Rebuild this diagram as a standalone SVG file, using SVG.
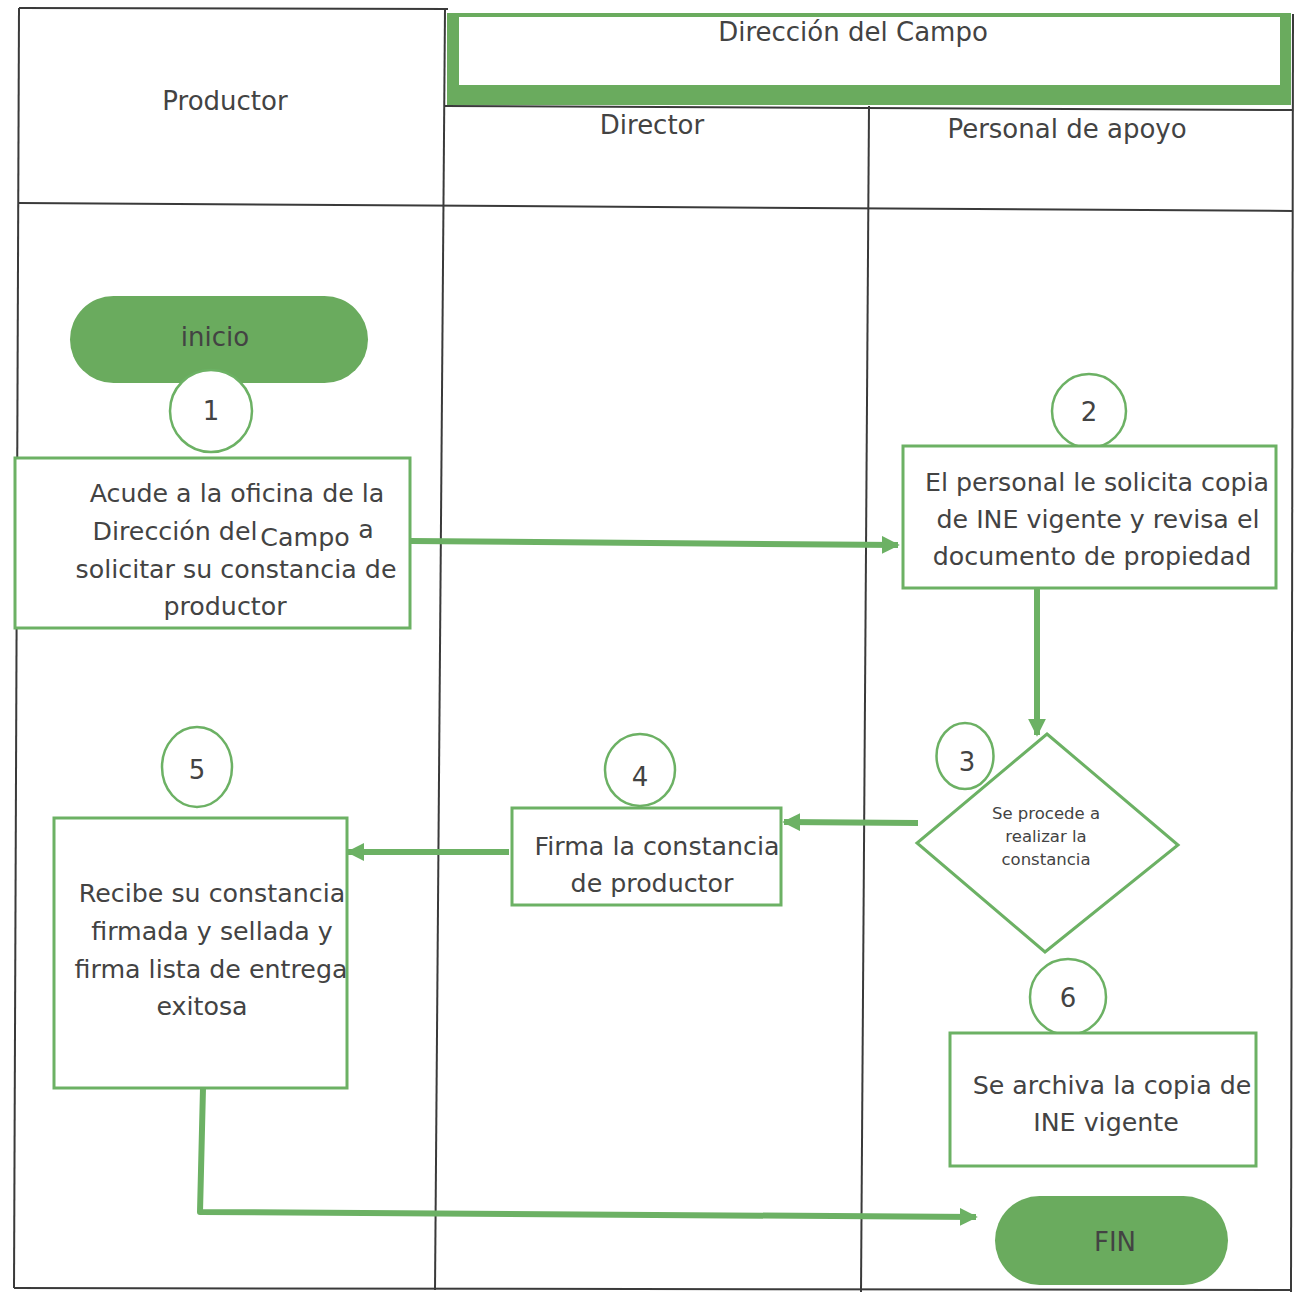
<svg xmlns="http://www.w3.org/2000/svg" width="1295" height="1292" viewBox="0 0 1295 1292">
  <defs>
    <style>
      .grid { stroke: #3a3a3a; stroke-width: 2; fill: none; }
      .lbl { font-family: "DejaVu Sans", "Liberation Sans", sans-serif; fill: #434343; text-anchor: middle; }
      .head { font-size: 26px; }
      .body { font-size: 25.3px; }
      .small { font-size: 16.5px; }
      .box { fill: #ffffff; stroke: #6cb164; stroke-width: 3; }
      .num { fill: #ffffff; stroke: #6cb164; stroke-width: 2.5; }
      .term { fill: #6aab5e; stroke: none; }
      .flow { stroke: #6cb164; stroke-width: 6; fill: none; }
    </style>
    <marker id="arrow" viewBox="0 0 10 10" refX="9" refY="5" markerWidth="3" markerHeight="3" orient="auto" markerUnits="strokeWidth">
      <path d="M0,0 L10,5 L0,10 z" fill="#6cb164"/>
    </marker>
  </defs>

  <rect width="1295" height="1292" fill="#ffffff"/>

  <!-- swimlane table -->
  <g id="lanes">
    <line class="grid" x1="19" y1="8" x2="448" y2="9"/>
    <line class="grid" x1="19" y1="8" x2="14" y2="1288"/>
    <line class="grid" x1="1293" y1="14" x2="1291" y2="1292"/>
    <line class="grid" x1="14" y1="1288" x2="1291" y2="1290"/>
    <line class="grid" x1="445" y1="8" x2="435" y2="1290"/>
    <line class="grid" x1="869" y1="106" x2="861" y2="1292"/>
    <line class="grid" x1="445" y1="106" x2="1293" y2="110"/>
    <line class="grid" x1="19" y1="203" x2="1293" y2="211"/>
  </g>

  <!-- lane headers -->
  <g id="header-productor">
    <text class="lbl head" x="225" y="110">Productor</text>
  </g>
  <g id="header-direccion">
    <rect x="447" y="13" width="844" height="92" fill="#6aab5e"/>
    <rect x="459" y="17" width="821" height="68" fill="#ffffff"/>
    <text class="lbl head" x="853" y="41">Dirección del Campo</text>
  </g>
  <g id="header-director">
    <text class="lbl head" x="652" y="134">Director</text>
  </g>
  <g id="header-personal">
    <text class="lbl head" x="1067" y="138">Personal de apoyo</text>
  </g>

  <!-- connectors -->
  <g id="connectors">
    <path class="flow" d="M410,541 L898,545" marker-end="url(#arrow)"/>
    <path class="flow" d="M1037,588 L1037,735" marker-end="url(#arrow)"/>
    <path class="flow" d="M918,823 L784,822" marker-end="url(#arrow)"/>
    <path class="flow" d="M509,852 L348,852" marker-end="url(#arrow)"/>
    <path class="flow" d="M203,1088 L200,1212 L976,1217" marker-end="url(#arrow)" stroke-linejoin="round"/>
  </g>

  <!-- start terminal -->
  <g id="inicio">
    <rect class="term" x="70" y="296" width="298" height="87" rx="43.5"/>
    <text class="lbl head" x="215" y="346">inicio</text>
  </g>

  <!-- step 1 -->
  <g id="step1">
    <circle class="num" cx="211" cy="411" r="41"/>
    <text class="lbl head" x="211" y="420">1</text>
    <rect class="box" x="15" y="458" width="395" height="170"/>
    <text class="lbl body" x="237" y="502">Acude a la oficina de la</text>
    <text class="lbl body" x="175" y="540">Dirección del</text>
    <text class="lbl body" x="305" y="546">Campo</text>
    <text class="lbl body" x="366" y="538">a</text>
    <text class="lbl body" x="236" y="578">solicitar su constancia de</text>
    <text class="lbl body" x="225" y="615">productor</text>
  </g>

  <!-- step 2 -->
  <g id="step2">
    <circle class="num" cx="1089" cy="411" r="37"/>
    <text class="lbl head" x="1089" y="421">2</text>
    <rect class="box" x="903" y="446" width="373" height="142"/>
    <text class="lbl body" x="1097" y="491">El personal le solicita copia</text>
    <text class="lbl body" x="1098" y="528">de INE vigente y revisa el</text>
    <text class="lbl body" x="1092" y="565">documento de propiedad</text>
  </g>

  <!-- step 3 decision -->
  <g id="step3">
    <ellipse class="num" cx="965" cy="756" rx="28.5" ry="33"/>
    <text class="lbl head" x="967" y="771">3</text>
    <polygon class="box" points="1047,734 1178,845 1045,952 917,843"/>
    <text class="lbl small" x="1046" y="819">Se procede a</text>
    <text class="lbl small" x="1046" y="842">realizar la</text>
    <text class="lbl small" x="1046" y="865">constancia</text>
  </g>

  <!-- step 4 -->
  <g id="step4">
    <ellipse class="num" cx="640" cy="770" rx="35" ry="36"/>
    <text class="lbl head" x="640" y="786">4</text>
    <rect class="box" x="512" y="808" width="269" height="97"/>
    <text class="lbl body" x="657" y="855">Firma la constancia</text>
    <text class="lbl body" x="652" y="892">de productor</text>
  </g>

  <!-- step 5 -->
  <g id="step5">
    <ellipse class="num" cx="197" cy="767" rx="35" ry="40"/>
    <text class="lbl head" x="197" y="779">5</text>
    <rect class="box" x="54" y="818" width="293" height="270"/>
    <text class="lbl body" x="212" y="902">Recibe su constancia</text>
    <text class="lbl body" x="212" y="940">firmada y sellada y</text>
    <text class="lbl body" x="211" y="978">firma lista de entrega</text>
    <text class="lbl body" x="202" y="1015">exitosa</text>
  </g>

  <!-- step 6 -->
  <g id="step6">
    <circle class="num" cx="1068" cy="997" r="38"/>
    <text class="lbl head" x="1068" y="1007">6</text>
    <rect class="box" x="950" y="1033" width="306" height="133"/>
    <text class="lbl body" x="1112" y="1094">Se archiva la copia de</text>
    <text class="lbl body" x="1106" y="1131">INE vigente</text>
  </g>

  <!-- end terminal -->
  <g id="fin">
    <rect class="term" x="995" y="1196" width="233" height="89" rx="44.5"/>
    <text class="lbl head" x="1115" y="1251">FIN</text>
  </g>
</svg>
